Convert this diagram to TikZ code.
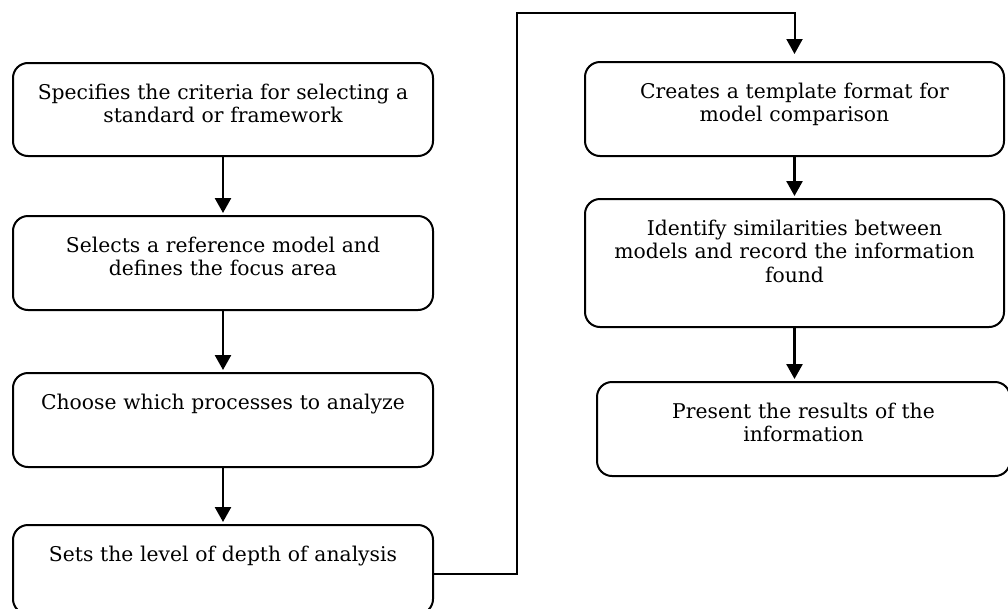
\documentclass[tikz,border=0pt]{standalone}
\usepackage{fontspec}
\setmainfont{DejaVu Serif}
\usetikzlibrary{arrows.meta,positioning}

\begin{document}
\begin{tikzpicture}[x=1pt,y=-1pt,>={Triangle[width=16pt,length=15pt]},shorten >=2pt,semithick]
  \tikzset{stage/.style={draw=black,line width=2pt,rounded corners=15pt,fill=white,
      text width=400pt,inner xsep=10pt,inner ysep=0pt,align=center,text height=36pt,
      font=\fontsize{20.3}{23.5}\selectfont},
    flow/.style={->,line width=2.6pt},
    link/.style={->,line width=2pt}}
  \useasboundingbox (0,0) rectangle (1008,608);

  % left column
  \node[stage,text depth=57pt,anchor=north] (spec) at (223,62)
    {Specifies the criteria for selecting a\\standard or framework};
  \node[stage,text depth=58pt] (ref) [below=58pt of spec]
    {Selects a reference model and\\defines the focus area};
  \node[stage,text depth=58pt] (proc) [below=61pt of ref]
    {Choose which processes to analyze};
  \node[stage,text depth=53pt] (depth) [below=56pt of proc]
    {Sets the level of depth of analysis};

  % right column
  \node[stage,text width=399pt,text depth=58pt,anchor=north] (tmpl) at (794.5,61)
    {Creates a template format for\\model comparison};
  \node[stage,text width=399pt,text depth=92pt] (sim) [below=41pt of tmpl]
    {Identify similarities between\\models and record the information\\found};
  \node[stage,text width=393pt,text depth=58pt] (res) [below=53pt of sim,xshift=9pt]
    {Present the results of the\\information};

  \coordinate (turn) at (517,13);

  \draw[flow] (spec) -- (ref);
  \draw[flow] (ref) -- (proc);
  \draw[flow] (proc) -- (depth);
  \draw[link,shorten >=7pt] ([yshift=-4pt]depth.east) -| (turn) -| (tmpl.north);
  \draw[flow] (tmpl) -- (sim);
  \draw[flow] (sim.south) -- (sim.south |- res.north);
\end{tikzpicture}
\end{document}
